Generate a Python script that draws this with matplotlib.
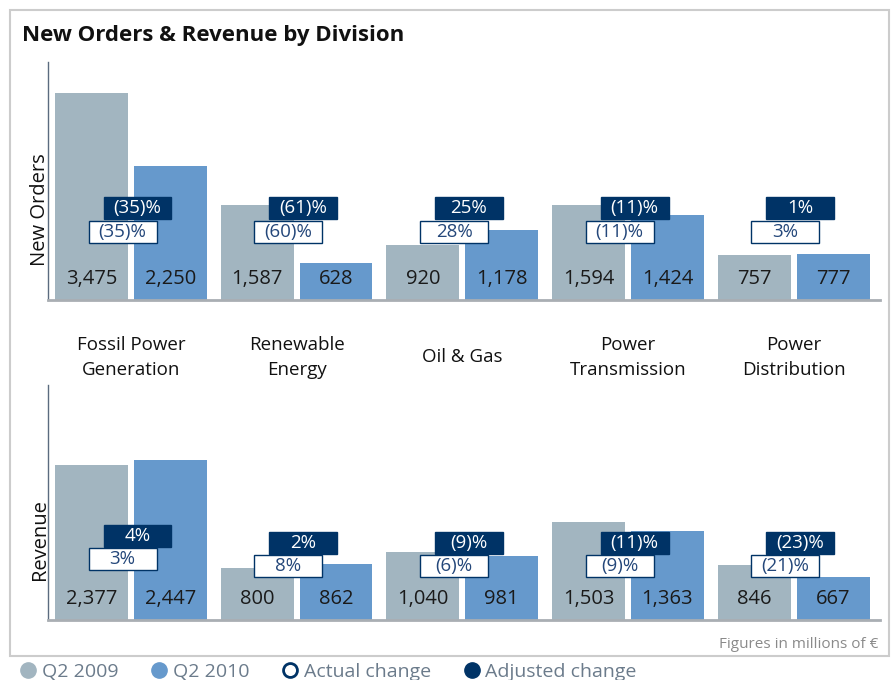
import numpy as np
import matplotlib.pyplot as plt
from matplotlib.patches import Rectangle
from matplotlib.lines import Line2D
import matplotlib.transforms as mtransforms

plt.rcParams['font.family'] = ['Open Sans', 'DejaVu Sans']

# data
divisions = ['Fossil Power\nGeneration', 'Renewable\nEnergy', 'Oil & Gas',
             'Power\nTransmission', 'Power\nDistribution']
orders_2009 = [3475, 1587, 920, 1594, 757]
orders_2010 = [2250, 628, 1178, 1424, 777]
orders_actual = ['(35)%', '(60)%', '28%', '(11)%', '3%']
orders_adjusted = ['(35)%', '(61)%', '25%', '(11)%', '1%']
revenue_2009 = [2377, 800, 1040, 1503, 846]
revenue_2010 = [2447, 862, 981, 1363, 667]
revenue_actual = ['3%', '8%', '(6)%', '(9)%', '(21)%']
revenue_adjusted = ['4%', '2%', '(9)%', '(11)%', '(23)%']

c_2009 = '#a2b5c0'
c_2010 = '#6699cc'
c_navy = '#003366'
c_navy_text = '#24477a'

fig = plt.figure(figsize=(8.96, 6.8), dpi=100)

# outer frame
fig.patches.append(Rectangle((0.0112, 0.0353), 0.981, 0.95, transform=fig.transFigure,
                             fill=False, edgecolor='#cccccc', lw=1.5))

fig.text(0.0246, 0.9485, 'New Orders & Revenue by Division', fontsize=16,
         fontweight='bold', va='center', ha='left', color='#111111')

ax_top = fig.add_axes([0.0536, 0.5588, 0.9284, 0.35])
ax_bot = fig.add_axes([0.0536, 0.0882, 0.9284, 0.3456])

x = np.arange(len(divisions))
w = 0.44
off = 0.238


def draw_panel(ax, v09, v10, actual, adjusted, ymax, adj_y, act_y, box_h):
    ax.bar(x - off, v09, w, color=c_2009)
    ax.bar(x + off, v10, w, color=c_2010)
    ax.set_xlim(-0.5, 4.52)
    ax.set_ylim(0, ymax)
    trans = mtransforms.blended_transform_factory(ax.transData, ax.transAxes)
    for i in range(len(x)):
        ax.text(x[i] - off, 0.088, f'{v09[i]:,}', transform=trans, ha='center',
                va='center', fontsize=14.5, color='#1a1a1a')
        ax.text(x[i] + off, 0.088, f'{v10[i]:,}', transform=trans, ha='center',
                va='center', fontsize=14.5, color='#1a1a1a')
        bw = 0.41
        cx = x[i] + 0.04
        ax.add_patch(Rectangle((cx - bw / 2, adj_y[i]), bw, box_h, transform=trans,
                               facecolor=c_navy, edgecolor=c_navy, lw=1, zorder=3))
        ax.text(cx, adj_y[i] + box_h / 2, adjusted[i], transform=trans, ha='center',
                va='center', fontsize=13.5, color='white', zorder=4)
        cx = x[i] - 0.05
        ax.add_patch(Rectangle((cx - bw / 2, act_y[i]), bw, box_h, transform=trans,
                               facecolor='white', edgecolor=c_navy, lw=1, zorder=5))
        ax.text(cx, act_y[i] + box_h / 2, actual[i], transform=trans, ha='center',
                va='center', fontsize=13.5, color=c_navy_text, zorder=6)
    for s in ['top', 'right']:
        ax.spines[s].set_visible(False)
    ax.spines['left'].set_color('#5b6b7f')
    ax.spines['left'].set_linewidth(1)
    ax.spines['bottom'].set_color('#a9aeb3')
    ax.spines['bottom'].set_linewidth(2)
    ax.set_xticks([])
    ax.set_yticks([])


draw_panel(ax_top, orders_2009, orders_2010, orders_actual, orders_adjusted, 3995,
           [0.340] * 5, [0.240] * 5, 0.093)
draw_panel(ax_bot, revenue_2009, revenue_2010, revenue_actual, revenue_adjusted, 3604,
           [0.311, 0.281, 0.281, 0.281, 0.281], [0.213, 0.183, 0.183, 0.183, 0.183], 0.094)

# division labels between panels
trans = mtransforms.blended_transform_factory(ax_top.transData, ax_top.transAxes)
for i, name in enumerate(divisions):
    ax_top.text(x[i], -0.24, name, transform=trans, ha='center', va='center',
                fontsize=13.5, color='#111111', linespacing=1.5, clip_on=False)

fig.text(0.0446, 0.691, 'New Orders', rotation=90, ha='center', va='center',
         fontsize=14.5, color='#111111')
fig.text(0.0446, 0.206, 'Revenue', rotation=90, ha='center', va='center',
         fontsize=14.5, color='#111111')

fig.text(0.98, 0.0529, 'Figures in millions of €', ha='right', va='center',
         fontsize=11, color='#8a8a8a')

handles = [
    Line2D([], [], ls='', marker='o', ms=11, color=c_2009),
    Line2D([], [], ls='', marker='o', ms=11, color=c_2010),
    Line2D([], [], ls='', marker='o', ms=10, mfc='white', mec=c_navy, mew=2),
    Line2D([], [], ls='', marker='o', ms=11, color=c_navy),
]
labels = ['Q2 2009', 'Q2 2010', 'Actual change', 'Adjusted change']
leg = fig.legend(handles, labels, loc='center left', bbox_to_anchor=(0.012, 0.012),
                 ncol=4, frameon=False, fontsize=14, handletextpad=0.2,
                 columnspacing=1.6, handlelength=1.0, borderaxespad=0)
for t in leg.get_texts():
    t.set_color('#6b7b8b')

fig.savefig('out.png', dpi=100)
